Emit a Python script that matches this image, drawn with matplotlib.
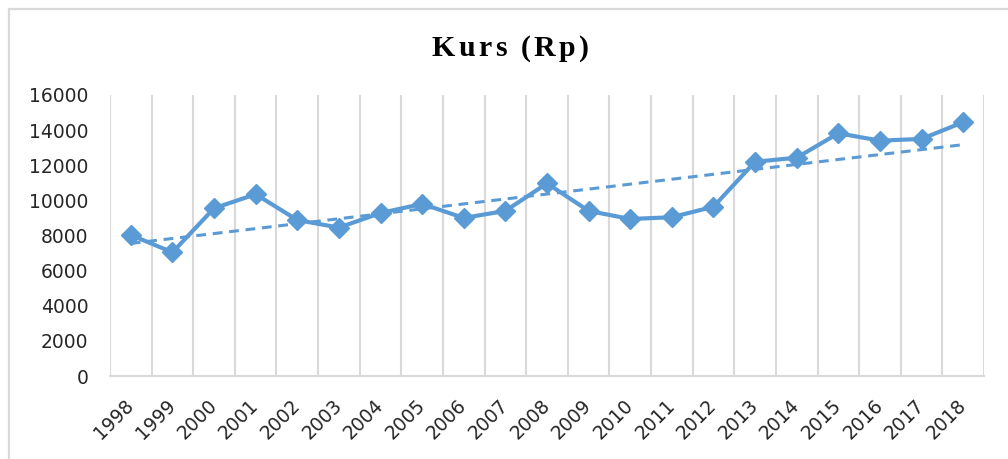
import matplotlib
matplotlib.use("Agg")
import matplotlib.pyplot as plt
import matplotlib.transforms as mtrans
import numpy as np
from matplotlib.patches import Rectangle

# data
years = [str(y) for y in range(1998, 2019)]
kurs = [8030, 7040, 9550, 10350, 8880, 8450, 9280, 9800, 9000, 9400,
        10970, 9400, 8940, 9040, 9640, 12200, 12430, 13820, 13400, 13500, 14450]
y_ticks = [0, 2000, 4000, 6000, 8000, 10000, 12000, 14000, 16000]
title = 'Kurs (Rp)'

blue = '#5B9BD5'
grid = '#D9D9D9'

fig = plt.figure(figsize=(10.08, 4.59), dpi=100)
ax = fig.add_axes([110 / 1008, 1 - 376 / 459, 874 / 1008, 281 / 459])

# outer chart border (runs off the right and bottom edge)
fig.patches.append(Rectangle((8.5 / 1008, -0.05), 1.1, 1 - 8.5 / 459 + 0.05,
                             transform=fig.transFigure, fill=False,
                             edgecolor='#D9D9D9', linewidth=1.6))

x = np.arange(len(years))
ax.plot(x, kurs, color=blue, linewidth=3.0, marker='D', markersize=10,
        zorder=3)

# linear trendline
coef = np.polyfit(x, kurs, 1)
ax.plot(x, np.polyval(coef, x), color=blue, linewidth=2.2,
        linestyle=(0, (3.2, 2.2)), zorder=2)

ax.set_xlim(-0.5, len(years) - 0.5)
ax.set_ylim(0, 16000)
ax.set_yticks(y_ticks)
ax.set_yticklabels([str(v) for v in y_ticks], fontsize=13.5, color='#262626')
ax.set_xticks(x)
ax.set_xticklabels(years, rotation=45, ha='right', va='center',
                   rotation_mode='anchor', fontsize=13.5, color='#262626')
shift = mtrans.ScaledTranslation(-3 / 100, 0, fig.dpi_scale_trans)
for lab in ax.get_xticklabels():
    lab.set_transform(lab.get_transform() + shift)

for b in np.arange(-0.5, len(years), 1.0):
    ax.axvline(b, color=grid, linewidth=1.5, zorder=0)

for s in ['top', 'right', 'left']:
    ax.spines[s].set_visible(False)
ax.spines['bottom'].set_color(grid)
ax.spines['bottom'].set_linewidth(1.5)
ax.tick_params(axis='both', length=0)
ax.tick_params(axis='y', pad=15.5)
ax.tick_params(axis='x', pad=19)

# letter-spaced title, one glyph at a time
tsize = 21.5
tprops = dict(fontsize=tsize, fontweight='bold', family='Liberation Serif',
              va='baseline', ha='left')
renderer = fig.canvas.get_renderer()
widths = []
for c in title:
    if c == ' ':
        widths.append(0.25 * tsize * 100 / 72)
        continue
    t = fig.text(0, 0, c, **tprops)
    widths.append(t.get_window_extent(renderer).width)
    t.remove()
target = 156.0
gap = (target - sum(widths)) / (len(title) - 1)
xpos = 510 - target / 2
for c, w in zip(title, widths):
    if c != ' ':
        fig.text(xpos / 1008, 1 - 56 / 459, c, **tprops)
    xpos += w + gap

fig.savefig('out.png', dpi=100)
